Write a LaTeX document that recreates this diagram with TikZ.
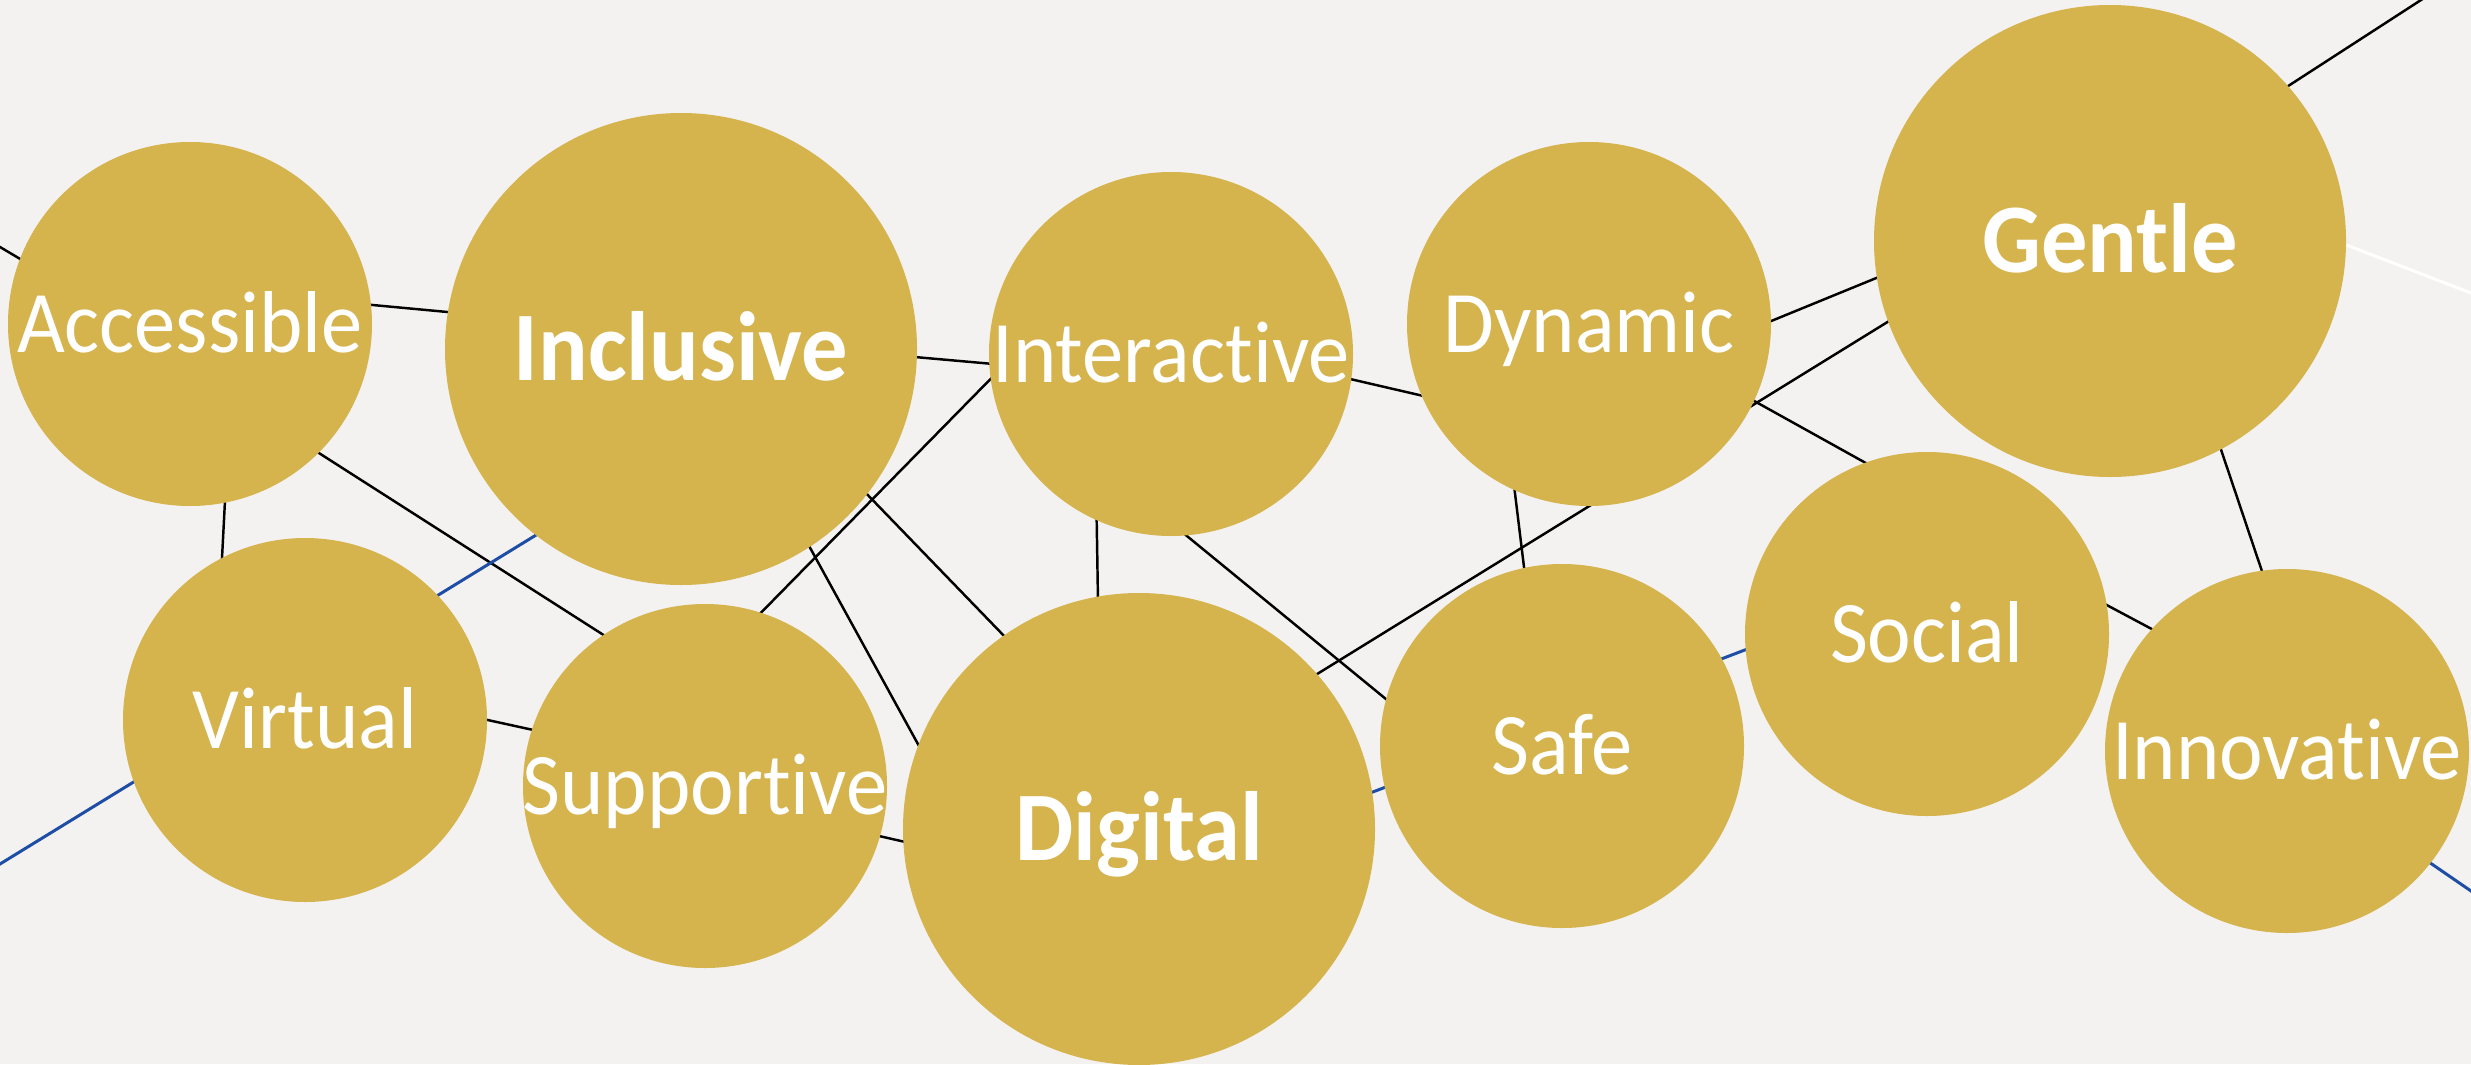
\documentclass[tikz,border=0pt]{standalone}
\usepackage{fontspec}
\usepackage{xcolor}
\setmainfont{Carlito}
\newfontfamily\thinfont[FakeStretch=0.94,Ligatures=NoCommon]{Carlito}
\definecolor{gold}{HTML}{D5B34D}
\definecolor{paper}{HTML}{F3F2F0}
\definecolor{lineblue}{HTML}{1E4DA6}
\pgfdeclarelayer{paper}
\pgfdeclarelayer{links}
\pgfsetlayers{paper,links,main}
\tikzset{%
	bubble/.style    = {circle, fill=gold, text=white, inner sep=-1cm, minimum size=3.64cm, font=\thinfont\fontsize{25}{28}\selectfont, text height=16.1pt, text depth=0pt},
	bigbubble/.style = {bubble, minimum size=4.72cm, font=\thinfont\bfseries\fontsize{28}{31}\selectfont, text height=18pt},
	link/.style      = {line width=0.7pt, black, shorten <=-3pt, shorten >=-3pt},
	bluelink/.style  = {link, line width=0.85pt, lineblue},
	whitelink/.style = {link, line width=0.85pt, white},
}
\begin{document}
\begin{tikzpicture}
	\useasboundingbox (0,0) rectangle (24.71,10.64);
	\begin{pgfonlayer}{paper}
		\fill[paper] (0,0) rectangle (24.71,10.64);
	\end{pgfonlayer}
	% top row
	\node[bubble]    (acc)   at (1.90,7.40)  {Accessible};
	\node[bigbubble] (inc)   at (6.81,7.15)  {Inclusive};
	\node[bubble]    (inter) at (11.71,7.10) {Interactive};
	\node[bubble]    (dyn)   at (15.89,7.40) {Dynamic};
	\node[bigbubble] (gen)   at (21.10,8.23) {Gentle};
	% bottom row
	\node[bubble]    (vir)   at (3.05,3.44)  {Virtual};
	\node[bubble]    (sup)   at (7.05,2.78)  {Supportive};
	\node[bigbubble] (dig)   at (11.39,2.35) {Digital};
	\node[bubble]    (safe)  at (15.62,3.18) {Safe};
	\node[bubble]    (soc)   at (19.27,4.30) {Social};
	\node[bubble]    (inn)   at (22.87,3.13) {Innovative};
	% lines run under the bubbles
	\begin{pgfonlayer}{links}
		\coordinate (edgeA) at (0,8.17);
		\coordinate (edgeB) at (0,2.00);
		\coordinate (edgeC) at (24.21,10.64);
		\coordinate (edgeD) at (24.71,7.71);
		\coordinate (edgeE) at (24.71,1.73);
		\draw[link] (edgeA) -- (acc.159.4);
		\draw[link] (acc.6.3) -- (inc.171);
		\draw[link] (acc.-79.1) -- (vir.117.2);
		\draw[link] (acc.-45.1) -- (sup.124.2);
		\draw[link] (vir.0.6) -- (sup.162.6);
		\draw[link] (sup.-16.5) -- (dig.183.9);
		\draw[link] (sup.72.1) -- (inter.188.2);
		\draw[link] (inc.-57.5) -- (dig.159.3);
		\draw[link] (inc.-38.1) -- (dig.125.6);
		\draw[link] (inc.-2.7) -- (inter.183.9);
		\draw[link] (inter.-114.6) -- (dig.100.7);
		\draw[link] (inter.-85.6) -- (safe.165.1);
		\draw[link] (inter.-8.8) -- (dyn.203);
		\draw[link] (dyn.1.6) -- (gen.189);
		\draw[link] (dig.41.05) -- (gen.200.8);
		\draw[link] (dyn.-114.7) -- (safe.102.6);
		\draw[link] (dyn.-25.6) -- (soc.110.6);
		\draw[link] (soc.9.5) -- (inn.138.1);
		\draw[link] (gen.-62.5) -- (inn.98.8);
		\draw[link] (gen.41.8) -- (edgeC);
		\draw[whitelink] (gen.-1.7) -- (edgeD);
		\draw[bluelink] (edgeB) -- (inc.232.3);
		\draw[bluelink] (dig.9.5) -- (soc.185.3);
		\draw[bluelink] (inn.-38.1) -- (edgeE);
	\end{pgfonlayer}
\end{tikzpicture}
\end{document}
